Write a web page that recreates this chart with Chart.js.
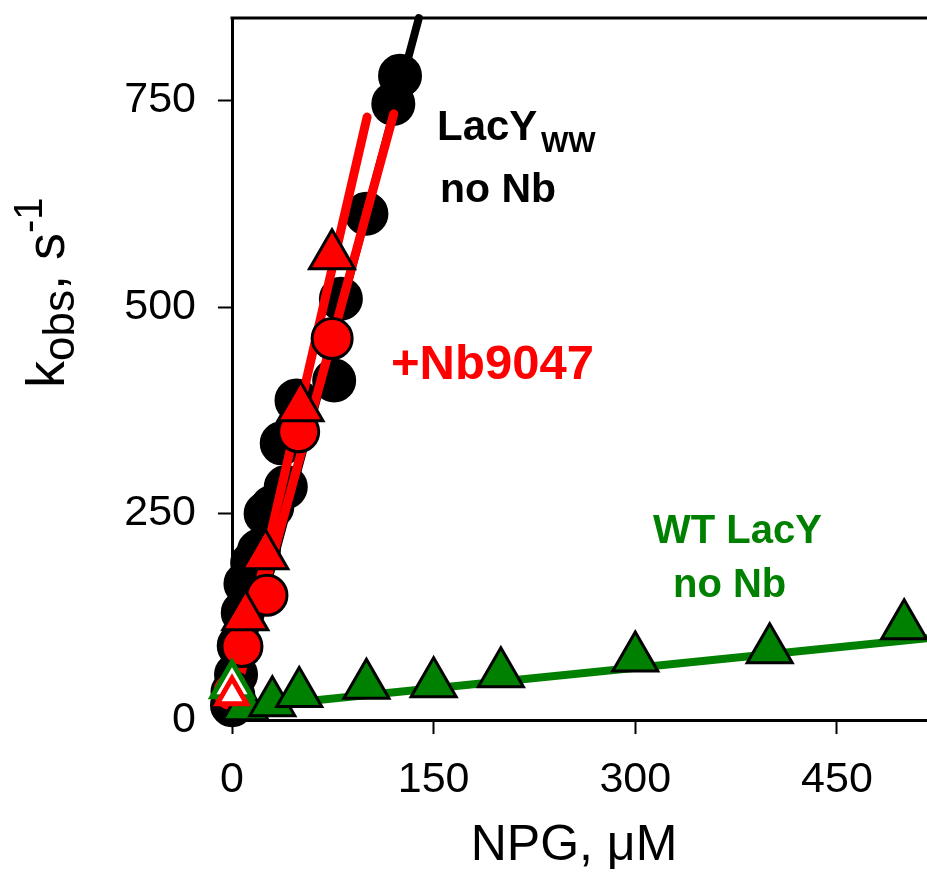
<!DOCTYPE html>
<html>
<head>
<meta charset="utf-8">
<script src="https://cdn.jsdelivr.net/npm/chart.js@4.4.0/dist/chart.umd.min.js"></script>
<style>
  html, body { margin: 0; padding: 0; background: #fff; }
  #wrap { width: 927px; height: 873px; }
</style>
</head>
<body>
<div id="wrap"><canvas id="kobsChart" width="927" height="873"></canvas></div>
<script>
// values: NPG (uM) vs k_obs (s^-1)
const wwNoNbX = [0, 1, 3, 5, 8, 10, 15, 20, 25, 30, 37, 40, 48, 76, 81, 100, 120, 125];
const wwNoNbY = [18, 30, 55, 90, 130, 165, 190, 205, 250, 258, 335, 282, 387, 411, 510, 613, 746, 780];

const nbCircleX = [0, 7.4, 26, 49.6, 74.5];
const nbCircleY = [34, 89, 151, 349, 462];
const nbTriX = [9.9, 24.8, 50.9, 74.4];
const nbTriY = [125, 199, 378, 562];

const wtX = [10, 30, 50, 100, 150, 200, 300, 400, 500];
const wtY = [16, 21, 32, 42, 44, 56, 75, 85, 114];

// open symbols at zero NPG
const zeroX = [0];
const zeroGreenY = [42];
const zeroRedY = [30];

// fitted lines (end points)
const wwFitX = [0, 139];
const wwFitY = [5, 850];
const nbTriFitX = [0, 100.5];
const nbTriFitY = [22, 730];
const nbCircFitX = [0, 120.3];
const nbCircFitY = [17, 734];
const wtFitX = [0, 517];
const wtFitY = [13.5, 99];

const xTicks = [0, 150, 300, 450];
const yTicks = [0, 250, 500, 750];

const RED = "#ff0000";
const GREEN = "#008000";
const FONT = "'Liberation Sans', Arial, sans-serif";

function pts(xs, ys) {
  return xs.map((x, i) => ({ x: x, y: ys[i] }));
}

function fitLine(xs, ys, color, width, order) {
  return {
    data: pts(xs, ys),
    showLine: true,
    borderColor: color,
    borderWidth: width,
    borderCapStyle: "round",
    pointRadius: 0,
    clip: false,
    order: order,
  };
}

function markers(xs, ys, style, fill, edge, radius, edgeWidth, order) {
  return {
    data: pts(xs, ys),
    showLine: false,
    pointStyle: style,
    pointRadius: radius,
    pointHoverRadius: radius,
    pointBackgroundColor: fill,
    pointBorderColor: edge,
    pointBorderWidth: edgeWidth,
    clip: false,
    order: order,
  };
}

// no extra room for labels, the plot box is fixed
function fixBox(scale) {
  scale.paddingTop = 0;
  scale.paddingBottom = 0;
  scale.paddingLeft = 0;
  scale.paddingRight = 0;
}

// frame top line and all the free text
const decor = {
  id: "decor",
  afterDraw(chart) {
    const ctx = chart.ctx;
    const a = chart.chartArea;
    ctx.save();
    ctx.strokeStyle = "#000";
    ctx.lineWidth = 3;
    ctx.beginPath();
    ctx.moveTo(a.left - 1.5, a.top);
    ctx.lineTo(a.right + 2, a.top);
    ctx.stroke();

    ctx.textBaseline = "alphabetic";
    ctx.textAlign = "left";

    // LacYww no Nb
    ctx.fillStyle = "#000";
    ctx.font = "bold 42px " + FONT;
    ctx.fillText("LacY", 437, 140);
    ctx.font = "bold 29px " + FONT;
    ctx.fillText("WW", 541, 152);
    ctx.font = "bold 41px " + FONT;
    ctx.fillText("no Nb", 440, 202);

    // +Nb9047
    ctx.fillStyle = RED;
    ctx.font = "bold 49px " + FONT;
    ctx.fillText("+Nb9047", 391, 379);

    // WT LacY no Nb
    ctx.fillStyle = GREEN;
    ctx.font = "bold 40px " + FONT;
    ctx.fillText("WT LacY", 653, 543);
    ctx.fillText("no Nb", 673, 597);

    // x title, centred on the axis
    ctx.fillStyle = "#000";
    ctx.font = "50px " + FONT;
    ctx.textAlign = "center";
    ctx.fillText("NPG, \u03bcM", 574, 860);

    // y title, rotated
    ctx.save();
    ctx.translate(64, 388);
    ctx.rotate(-Math.PI / 2);
    ctx.textAlign = "left";
    let x = 0;
    ctx.font = "54px " + FONT;
    ctx.fillText("k", x, 0);
    x += ctx.measureText("k").width;
    ctx.font = "44px " + FONT;
    ctx.fillText("obs", x, 10);
    x += ctx.measureText("obs").width;
    ctx.font = "54px " + FONT;
    ctx.fillText(", s", x, 0);
    x += ctx.measureText(", s").width;
    ctx.font = "40px " + FONT;
    ctx.fillText("-1", x, -22);
    ctx.restore();

    ctx.restore();
  },
};

const ctx = document.getElementById("kobsChart").getContext("2d");

new Chart(ctx, {
  type: "scatter",
  data: {
    datasets: [
      markers(wwNoNbX, wwNoNbY, "circle", "#000", "#000", 21, 2, 9),
      fitLine(wwFitX, wwFitY, "#000", 8, 8),
      fitLine(nbTriFitX, nbTriFitY, RED, 9, 7),
      fitLine(nbCircFitX, nbCircFitY, RED, 9, 7),
      fitLine(wtFitX, wtFitY, GREEN, 8, 6),
      markers(nbCircleX, nbCircleY, "circle", RED, "#000", 20, 3, 5),
      markers(nbTriX, nbTriY, "triangle", RED, "#000", 26, 3, 4),
      markers(wtX, wtY, "triangle", GREEN, "#000", 26, 3, 3),
      markers(zeroX, zeroGreenY, "triangle", "#fff", GREEN, 23, 5, 2),
      markers(zeroX, zeroRedY, "triangle", "#fff", RED, 17, 5, 1),
    ],
  },
  options: {
    responsive: false,
    devicePixelRatio: 1,
    animation: false,
    events: [],
    layout: {
      autoPadding: false,
      padding: { top: 18, right: 0, left: 0, bottom: 0 },
    },
    plugins: {
      legend: { display: false },
      tooltip: { enabled: false },
    },
    scales: {
      x: {
        type: "linear",
        min: 0,
        max: 517,
        afterBuildTicks: (scale) => {
          scale.ticks = xTicks.map((v) => ({ value: v }));
        },
        afterFit: (scale) => {
          scale.height = 153;
          fixBox(scale);
        },
        grid: {
          drawOnChartArea: false,
          drawTicks: true,
          tickLength: 14,
          tickWidth: 2,
          color: "#000",
        },
        border: { display: true, color: "#000", width: 3 },
        ticks: {
          color: "#000",
          padding: 20,
          maxRotation: 0,
          font: { family: FONT, size: 43 },
        },
      },
      y: {
        type: "linear",
        min: 0,
        max: 850,
        afterBuildTicks: (scale) => {
          scale.ticks = yTicks.map((v) => ({ value: v }));
        },
        afterFit: (scale) => {
          scale.width = 232;
          fixBox(scale);
        },
        grid: {
          drawOnChartArea: false,
          drawTicks: true,
          tickLength: 14,
          tickWidth: 2,
          color: "#000",
        },
        border: { display: true, color: "#000", width: 3 },
        ticks: {
          color: "#000",
          padding: 22,
          font: { family: FONT, size: 43 },
        },
      },
    },
  },
  plugins: [decor],
});
</script>
</body>
</html>
